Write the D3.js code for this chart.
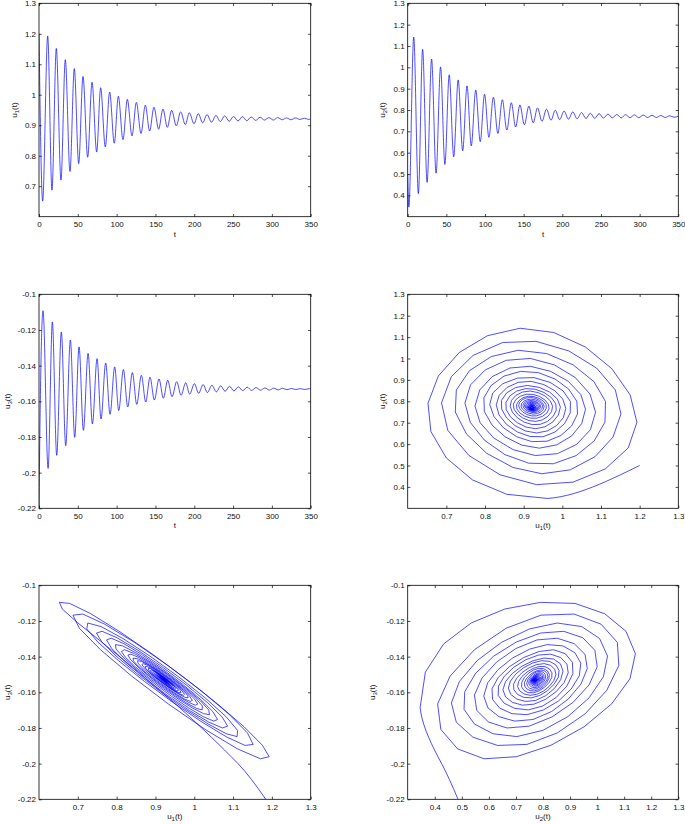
<!DOCTYPE html>
<html><head><meta charset="utf-8">
<script src="https://cdn.jsdelivr.net/npm/d3@7"></script>
<style>
body{margin:0;background:#fff;}
svg{display:block;font-family:"Liberation Sans",Arial,Helvetica,sans-serif;}
</style></head><body>
<svg id="fig" width="685" height="824"></svg>
<script>
// ---- data: start value, alternating extrema, end value ----
const u1Times = [0, 4.7, 11.2, 16.7, 22.3, 28.3, 33.9, 39.9, 45.5, 51.1, 56.7, 62.7, 68.3, 74.3, 79.4, 85.4, 91.0, 97.0, 102.2, 108.2, 113.8, 119.8, 125.4, 131.4, 137.0, 142.5, 148.1, 154.1, 159.7, 165.3, 170.9, 176.9, 182.5, 188.5, 193.6, 199.7, 205.2, 210.9, 216.4, 222.2, 228.0, 233.6, 239.2, 245.0, 250.6, 256.3, 262.0, 267.7, 273.4, 279.1, 284.8, 290.5, 296.2, 301.9, 307.6, 313.3, 319.0, 324.7, 330.4, 336.1, 341.8, 347.5, 350];
const u1Values = [1.2,
  0.651, 1.193, 0.687, 1.152, 0.720, 1.115, 0.748, 1.086, 0.774, 1.060,
  0.795, 1.041, 0.812, 1.023, 0.829, 1.009, 0.841, 0.995, 0.853, 0.985,
  0.865, 0.975, 0.873, 0.966, 0.881, 0.959, 0.887, 0.953, 0.893, 0.949,
  0.898, 0.944, 0.902, 0.941, 0.905, 0.938, 0.908, 0.935, 0.910, 0.932,
  0.912, 0.931, 0.913, 0.929, 0.914, 0.928, 0.915, 0.927, 0.916, 0.926,
  0.917, 0.925, 0.917, 0.925, 0.918, 0.924, 0.918, 0.924, 0.919, 0.923,
  0.919, 0.921];

const u2Times = [0, 1.5, 7.8, 13.8, 19.3, 25.1, 30.9, 36.7, 42.5, 48.1, 53.7, 59.5, 65.3, 71.1, 76.7, 82.2, 88.0, 93.8, 99.4, 105.0, 110.8, 116.6, 122.4, 128.2, 134.0, 139.6, 145.1, 150.9, 156.7, 162.3, 167.9, 173.7, 179.5, 185.3, 190.9, 196.5, 202.3, 207.9, 213.5, 219.1, 224.9, 230.6, 236.2, 241.9, 247.6, 253.3, 259.0, 264.7, 270.4, 276.1, 281.8, 287.5, 293.2, 298.9, 304.6, 310.3, 316.0, 321.7, 327.4, 333.1, 338.8, 344.5, 350];
const u2Values = [0.5,
  0.345, 1.142, 0.408, 1.085, 0.461, 1.039, 0.504, 1.002, 0.545, 0.965,
  0.581, 0.941, 0.609, 0.913, 0.632, 0.894, 0.652, 0.874, 0.672, 0.860,
  0.690, 0.848, 0.706, 0.834, 0.720, 0.824, 0.731, 0.818, 0.740, 0.810,
  0.747, 0.804, 0.752, 0.799, 0.755, 0.795, 0.757, 0.791, 0.759, 0.788,
  0.760, 0.785, 0.761, 0.783, 0.762, 0.781, 0.763, 0.779, 0.763, 0.778,
  0.764, 0.777, 0.764, 0.776, 0.765, 0.775, 0.765, 0.774, 0.765, 0.773,
  0.766, 0.771];

const u3Times = [0, 0.5, 5.2, 11.7, 17.2, 22.8, 28.8, 34.4, 40.4, 46.0, 51.6, 57.2, 63.2, 68.8, 74.8, 79.9, 85.9, 91.5, 97.5, 102.7, 108.7, 114.3, 120.3, 125.9, 131.9, 137.5, 143.0, 148.6, 154.6, 160.2, 165.8, 171.4, 177.4, 183.0, 189.0, 194.1, 200.2, 205.7, 211.4, 216.9, 222.7, 228.5, 234.1, 239.7, 245.5, 251.1, 256.8, 262.5, 268.2, 273.9, 279.6, 285.3, 291.0, 296.7, 302.4, 308.1, 313.8, 319.5, 325.2, 330.9, 336.6, 342.3, 348.0, 350];
const u3Values = [-0.225, -0.2,
  -0.1092, -0.1976, -0.1155, -0.1903, -0.1211, -0.1849, -0.1256, -0.1802, -0.1295, -0.1763,
  -0.1331, -0.1727, -0.1361, -0.1699, -0.1385, -0.1673, -0.1407, -0.1652, -0.1422, -0.1632,
  -0.1439, -0.1617, -0.1454, -0.1604, -0.1465, -0.1593, -0.1475, -0.1583, -0.1482, -0.1574,
  -0.1490, -0.1566, -0.1496, -0.1560, -0.1501, -0.1555, -0.1506, -0.1551, -0.1510, -0.1547,
  -0.1513, -0.1544, -0.1516, -0.1542, -0.1519, -0.1540, -0.1521, -0.1539, -0.1523, -0.1538,
  -0.1525, -0.1537, -0.1526, -0.1536, -0.1527, -0.1535, -0.1528, -0.1534, -0.1529, -0.1534,
  -0.1529, -0.1531];

const tTicks  = [0, 50, 100, 150, 200, 250, 300, 350];
const u1Ticks = [0.7, 0.8, 0.9, 1, 1.1, 1.2, 1.3];
const u2Ticks = [0.4, 0.5, 0.6, 0.7, 0.8, 0.9, 1, 1.1, 1.2, 1.3];
const u3Ticks = [-0.22, -0.2, -0.18, -0.16, -0.14, -0.12, -0.1];

const tDomain  = [0, 350];
const u1Domain = [0.6, 1.3];
const u2Domain = [0.3, 1.3];
const u3Domain = [-0.22, -0.1];
const sampleStep = 0.7;      // solver output step seen as polygon corners
const startStep = 0.1;       // finer steps during the initial transient

// ---- monotone cubic (same slopes as d3.curveMonotoneX) evaluator ----
function monotoneEval(xs, ys) {
  const n = xs.length, h = [], s = [], m = new Array(n);
  for (let i = 0; i < n - 1; i++) { h[i] = xs[i+1] - xs[i]; s[i] = (ys[i+1] - ys[i]) / h[i]; }
  for (let i = 1; i < n - 1; i++) {
    const p = (s[i-1] * h[i] + s[i] * h[i-1]) / (h[i-1] + h[i]);
    m[i] = (Math.sign(s[i-1]) + Math.sign(s[i])) * Math.min(Math.abs(s[i-1]), Math.abs(s[i]), 0.5 * Math.abs(p)) || 0;
  }
  m[0] = (3 * s[0] - m[1]) / 2;
  m[n-1] = (3 * s[n-2] - m[n-2]) / 2;
  return t => {
    let i = d3.bisectRight(xs, t) - 1;
    i = Math.max(0, Math.min(n - 2, i));
    const k = (t - xs[i]) / h[i], k2 = k * k, k3 = k2 * k;
    return (2*k3 - 3*k2 + 1) * ys[i] + (k3 - 2*k2 + k) * h[i] * m[i]
         + (-2*k3 + 3*k2) * ys[i+1] + (k3 - k2) * h[i] * m[i+1];
  };
}

const f1 = monotoneEval(u1Times, u1Values);
const f2 = monotoneEval(u2Times, u2Values);
const f3 = monotoneEval(u3Times, u3Values);
const sampleT = d3.range(0, 1.4, startStep).concat(d3.range(1.4, 350 + 1e-6, sampleStep));
const fmt = d => String(+(+d).toFixed(2));

const svg = d3.select('#fig');
const color = '#0000ff';

const L = [39, 310.7], R = [407.7, 678.3];
const rows = [[3.3, 216.7], [294.3, 508.3], [585.3, 799.3]];

const panels = [
  {xr: L, yr: rows[0], xd: tDomain, yd: u1Domain, xt: tTicks, yt: u1Ticks, xl: ['t'], yl: ['u','1'], ylx: 16.5, kind: 'ts', times: u1Times, vals: u1Values},
  {xr: R, yr: rows[0], xd: tDomain, yd: u2Domain, xt: tTicks, yt: u2Ticks, xl: ['t'], yl: ['u','2'], ylx: 385, kind: 'ts', times: u2Times, vals: u2Values},
  {xr: L, yr: rows[1], xd: tDomain, yd: u3Domain, xt: tTicks, yt: u3Ticks, xl: ['t'], yl: ['u','3'], ylx: 10, kind: 'ts', times: u3Times, vals: u3Values},
  {xr: R, yr: rows[1], xd: u1Domain, yd: u2Domain, xt: u1Ticks, yt: u2Ticks, xl: ['u','1'], yl: ['u','2'], ylx: 385, kind: 'ph', fx: f1, fy: f2},
  {xr: L, yr: rows[2], xd: u1Domain, yd: u3Domain, xt: u1Ticks, yt: u3Ticks, xl: ['u','1'], yl: ['u','3'], ylx: 10, kind: 'ph', fx: f1, fy: f3},
  {xr: R, yr: rows[2], xd: u2Domain, yd: u3Domain, xt: u2Ticks, yt: u3Ticks, xl: ['u','2'], yl: ['u','3'], ylx: 375, kind: 'ph', fx: f2, fy: f3}
];

function addLabel(sel, parts) {
  sel.append('tspan').text(parts[0]);
  if (parts.length > 1) {
    sel.append('tspan').attr('font-size', 6).attr('dy', 2).text(parts[1]);
    sel.append('tspan').attr('dy', -2).text('(t)');
  }
}

panels.forEach((p, idx) => {
  const x = d3.scaleLinear().domain(p.xd).range(p.xr);
  const y = d3.scaleLinear().domain(p.yd).range([p.yr[1], p.yr[0]]);
  const g = svg.append('g');
  const cid = 'clip' + idx;
  svg.append('clipPath').attr('id', cid).append('rect')
    .attr('x', p.xr[0]).attr('y', p.yr[0])
    .attr('width', p.xr[1] - p.xr[0]).attr('height', p.yr[1] - p.yr[0]);

  let pathD;
  if (p.kind === 'ts') {
    const pts = p.times.map((t, i) => [t, p.vals[i]]);
    pathD = d3.line().x(d => x(d[0])).y(d => y(d[1])).curve(d3.curveMonotoneX)(pts);
  } else {
    const pts = sampleT.map(t => [p.fx(t), p.fy(t)]);
    pathD = d3.line().x(d => x(d[0])).y(d => y(d[1]))(pts);
  }
  g.append('path').attr('d', pathD).attr('clip-path', `url(#${cid})`)
    .attr('fill', 'none').attr('stroke', color).attr('stroke-width', 0.7)
    .attr('stroke-linejoin', 'round');

  const tick = 2.7;
  const style = a => {
    a.select('.domain').remove();
    a.selectAll('line').attr('stroke', '#000').attr('stroke-width', 0.7);
    a.selectAll('text').attr('font-size', 8).attr('fill', '#111')
      .attr('font-family', '"Liberation Sans",Arial,Helvetica,sans-serif');
  };
  g.append('g').attr('transform', `translate(0,${p.yr[1]})`)
    .call(d3.axisBottom(x).tickValues(p.xt).tickSizeInner(-tick).tickSizeOuter(0).tickPadding(4.6).tickFormat(fmt)).call(style);
  g.append('g').attr('transform', `translate(0,${p.yr[0]})`)
    .call(d3.axisTop(x).tickValues(p.xt).tickSizeInner(-tick).tickSizeOuter(0).tickFormat('')).call(style);
  g.append('g').attr('transform', `translate(${p.xr[0]},0)`)
    .call(d3.axisLeft(y).tickValues(p.yt).tickSizeInner(-tick).tickSizeOuter(0).tickPadding(3).tickFormat(fmt)).call(style);
  g.append('g').attr('transform', `translate(${p.xr[1]},0)`)
    .call(d3.axisRight(y).tickValues(p.yt).tickSizeInner(-tick).tickSizeOuter(0).tickFormat('')).call(style);

  g.append('rect').attr('x', p.xr[0]).attr('y', p.yr[0])
    .attr('width', p.xr[1] - p.xr[0]).attr('height', p.yr[1] - p.yr[0])
    .attr('fill', 'none').attr('stroke', '#000').attr('stroke-width', 0.8);

  const xl = g.append('text').attr('x', (p.xr[0] + p.xr[1]) / 2).attr('y', p.yr[1] + 20)
    .attr('text-anchor', 'middle').attr('font-size', 8).attr('fill', '#111');
  addLabel(xl, p.xl);
  const ymid = (p.yr[0] + p.yr[1]) / 2;
  const yl = g.append('text').attr('transform', `translate(${p.ylx},${ymid}) rotate(-90)`)
    .attr('text-anchor', 'middle').attr('font-size', 8).attr('fill', '#111');
  addLabel(yl, p.yl);
});
</script>
</body></html>
